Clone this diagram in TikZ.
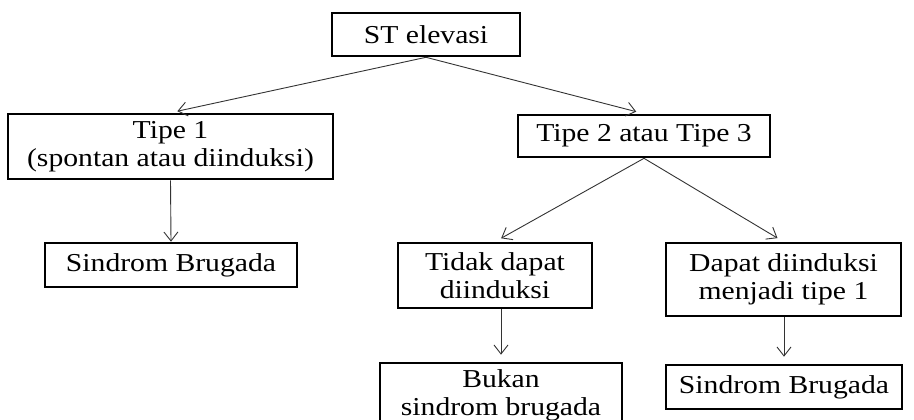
\documentclass[tikz,border=0pt]{standalone}
\usepackage{fontspec}
\setmainfont{Liberation Serif}[FakeStretch=1.15]
\usetikzlibrary{arrows.meta}

\tikzset{
	kotak/.style={draw, line width=1.3pt, align=center, inner sep=0pt, font=\fontsize{12.9}{14}\selectfont},
	panah/.style={-{Straight Barb[length=4.5pt,width=7pt]}, line width=0.45pt, black!80}
}

\begin{document}
\begin{tikzpicture}[x=0.5pt, y=0.5pt]
		\useasboundingbox (0, 0) rectangle (914, 419);

		\node[kotak, minimum width=94pt, minimum height=21.5pt] (st) at (426, 384.5) {ST elevasi};
		\node[kotak, minimum width=162.5pt, minimum height=32.5pt] (tipe1) at (170.5, 272.5) {Tipe 1\\(spontan atau diinduksi)};
		\node[kotak, minimum width=126pt, minimum height=21pt] (tipe23) at (644, 283) {Tipe 2 atau Tipe 3};

		\node[kotak, minimum width=126pt, minimum height=22pt] (sbkiri) at (171, 154) {Sindrom Brugada};
		\node[kotak, minimum width=97pt, minimum height=32.5pt] (tidak) at (495, 143.5) {Tidak dapat\\diinduksi};
		\node[kotak, minimum width=117.5pt, minimum height=36.5pt] (dapat) at (783.5, 139.5) {Dapat diinduksi\\menjadi tipe 1};

		\node[kotak, minimum width=121pt, minimum height=32.5pt] (bukan) at (501, 23.5) {Bukan\\sindrom brugada};
		\node[kotak, minimum width=118pt, minimum height=22pt] (sbkanan) at (784, 32) {Sindrom Brugada};

		\draw[panah, shorten >=3.5pt] (st.south) -- (tipe1.north);
		\draw[panah, shorten >=4pt] (st.south) -- (tipe23.north);
		\draw[panah] (tipe1.south) -- (sbkiri.north);
		\draw[panah, shorten >=3.5pt] (tipe23.south) -- (tidak.north);
		\draw[panah, shorten >=3.5pt] (tipe23.south) -- (dapat.north);
		\draw[panah, shorten >=3.5pt] (bukan.north |- tidak.south) -- (bukan.north);
		\draw[panah, shorten >=3.5pt] (sbkanan.north |- dapat.south) -- (sbkanan.north);
	\end{tikzpicture}
\end{document}
